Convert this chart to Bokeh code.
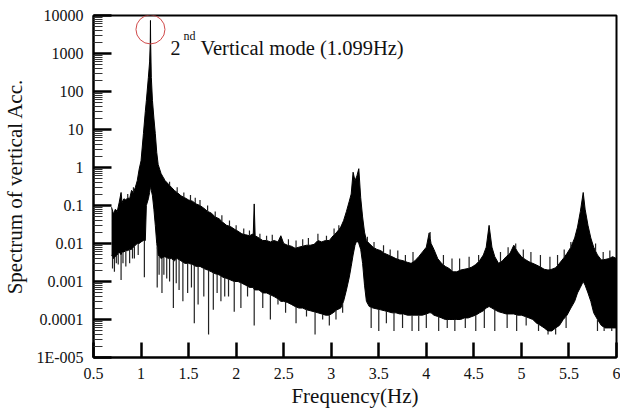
import numpy as np
from bokeh.plotting import figure
from bokeh.models import FixedTicker, CustomJSTickFormatter
from bokeh.core.properties import value
from bokeh.embed import file_html
from bokeh.resources import INLINE

# ---------------- data ----------------
freq = [0.69, 0.71, 0.73, 0.75, 0.77, 0.79, 0.80, 0.82, 0.84, 0.86, 0.88, 0.90, 0.92,
        0.94, 0.96, 0.98, 1.00, 1.025, 1.045, 1.056, 1.077, 1.09, 1.097, 1.099, 1.101,
        1.108, 1.12, 1.135, 1.15, 1.165, 1.18, 1.21, 1.25, 1.29, 1.32, 1.35, 1.38, 1.42,
        1.46, 1.50, 1.54, 1.58, 1.62, 1.66, 1.70, 1.74, 1.78, 1.82, 1.86, 1.90, 1.94,
        1.98, 2.02, 2.06, 2.10, 2.14, 2.18, 2.19, 2.20, 2.24, 2.28, 2.32, 2.36, 2.40,
        2.44, 2.47, 2.50, 2.54, 2.58, 2.62, 2.66, 2.70, 2.74, 2.78, 2.82, 2.86, 2.90,
        2.94, 2.98, 3.02, 3.06, 3.10, 3.13, 3.16, 3.19, 3.21, 3.23, 3.25, 3.27, 3.29,
        3.31, 3.33, 3.35, 3.37, 3.40, 3.44, 3.48, 3.52, 3.56, 3.60, 3.64, 3.68, 3.72,
        3.76, 3.80, 3.84, 3.88, 3.92, 3.96, 4.00, 4.03, 4.05, 4.08, 4.12, 4.16, 4.20,
        4.24, 4.28, 4.32, 4.36, 4.40, 4.44, 4.48, 4.52, 4.56, 4.60, 4.63, 4.66, 4.69,
        4.72, 4.76, 4.80, 4.84, 4.88, 4.92, 4.96, 5.00, 5.04, 5.08, 5.12, 5.16, 5.20,
        5.24, 5.28, 5.32, 5.36, 5.40, 5.44, 5.48, 5.52, 5.56, 5.59, 5.62, 5.65, 5.67,
        5.70, 5.73, 5.76, 5.80, 5.84, 5.88, 5.92, 5.96, 6.00]

upper = [0.09, 0.06, 0.08, 0.07, 0.12, 0.22, 0.12, 0.15, 0.14, 0.16, 0.15, 0.25, 0.22,
         0.3, 0.45, 0.9, 1.5, 7.8, 30, 58, 235, 600, 2000, 7400, 2000,
         235, 58, 20, 7.8, 2.5, 1.2, 0.7, 0.46, 0.36, 0.3, 0.25, 0.22, 0.18,
         0.16, 0.14, 0.13, 0.11, 0.1, 0.085, 0.07, 0.063, 0.05, 0.045, 0.036, 0.03, 0.028,
         0.024, 0.021, 0.018, 0.017, 0.016, 0.018, 0.11, 0.016, 0.014, 0.012, 0.012, 0.011, 0.012,
         0.011, 0.016, 0.01, 0.009, 0.0085, 0.0075, 0.008, 0.0085, 0.009, 0.009, 0.0095, 0.012, 0.011,
         0.012, 0.012, 0.016, 0.02, 0.027, 0.04, 0.07, 0.13, 0.2, 0.75, 0.45, 0.6, 0.93,
         0.16, 0.05, 0.02, 0.012, 0.01, 0.008, 0.007, 0.0065, 0.0055, 0.005, 0.0045, 0.004, 0.0037,
         0.0035, 0.0032, 0.003, 0.0035, 0.0045, 0.006, 0.008, 0.019, 0.01, 0.007, 0.004, 0.003, 0.0025,
         0.0022, 0.0018, 0.0018, 0.002, 0.0021, 0.0022, 0.0024, 0.0028, 0.0035, 0.005, 0.008, 0.03, 0.008,
         0.0045, 0.003, 0.0035, 0.0045, 0.0055, 0.009, 0.006, 0.0045, 0.0038, 0.0033, 0.003, 0.0027, 0.0024,
         0.0021, 0.002, 0.0021, 0.0023, 0.003, 0.004, 0.0055, 0.008, 0.014, 0.027, 0.07, 0.22, 0.08,
         0.03, 0.014, 0.008, 0.005, 0.0037, 0.0038, 0.004, 0.0045, 0.004]

lower = [0.005, 0.004, 0.0045, 0.005, 0.006, 0.005, 0.006, 0.006, 0.0065, 0.0065, 0.007, 0.007, 0.008,
         0.009, 0.01, 0.01, 0.011, 0.012, 0.012, 0.1, 0.15, 0.22, 0.3, 0.4, 0.3,
         0.25, 0.18, 0.08, 0.03, 0.01, 0.005, 0.004, 0.0045, 0.004, 0.004, 0.0035, 0.004, 0.0035,
         0.003, 0.003, 0.0028, 0.0025, 0.0025, 0.0022, 0.002, 0.0018, 0.0016, 0.0015, 0.0013, 0.0012, 0.0011,
         0.001, 0.001, 0.0009, 0.0008, 0.0007, 0.0007, 0.0006, 0.0006, 0.0006, 0.0005, 0.0005, 0.00045, 0.0004,
         0.00035, 0.0003, 0.0003, 0.00028, 0.00025, 0.00022, 0.0002, 0.0002, 0.00018, 0.00017, 0.00016, 0.00015, 0.00014,
         0.00013, 0.00013, 0.00015, 0.00018, 0.0002, 0.0003, 0.0006, 0.0013, 0.0025, 0.005, 0.009, 0.012, 0.01,
         0.007, 0.003, 0.0008, 0.0003, 0.00022, 0.0002, 0.00019, 0.00018, 0.00017, 0.00016, 0.00015, 0.00015, 0.00014,
         0.00014, 0.00013, 0.00013, 0.00013, 0.00013, 0.00013, 0.00014, 0.00015, 0.00015, 0.00013, 0.00012, 0.00011, 0.0001,
         0.0001, 0.0001, 0.0001, 0.0001, 0.00011, 0.00011, 0.00012, 0.00013, 0.00015, 0.00017, 0.0002, 0.00022, 0.0002,
         0.00018, 0.00016, 0.00015, 0.00014, 0.00014, 0.00014, 0.00013, 0.00013, 0.00012, 0.00011, 0.0001, 0.00008, 0.00007,
         0.00006, 0.00005, 0.00005, 0.00006, 0.00007, 0.0001, 0.00013, 0.0002, 0.0003, 0.0005, 0.0007, 0.001, 0.0008,
         0.0005, 0.0003, 0.00015, 0.0001, 0.00007, 0.00006, 0.00006, 0.00006, 0.00006]

# deep downward spikes below the dense band
dip_freq = [0.70, 0.72, 0.74, 0.76, 0.79, 0.81, 0.84, 0.88, 0.91, 0.93, 0.97, 1.035, 1.17,
            1.19, 1.22, 1.24, 1.27, 1.30, 1.34, 1.37, 1.40, 1.44, 1.49, 1.53,
            1.56, 1.60, 1.66, 1.71, 1.76, 1.80, 1.84, 1.88, 1.92, 1.98, 2.05, 2.12, 2.19, 2.28, 2.36,
            2.44, 2.52, 2.63, 2.74, 2.83, 2.91, 2.98, 3.05, 3.12, 3.42, 3.50, 3.58, 3.66,
            3.75, 3.85, 3.92, 4.00, 4.13, 4.22, 4.30, 4.41, 4.52, 4.61, 4.72, 4.85, 4.95,
            5.05, 5.18, 5.28, 5.36, 5.47, 5.80, 5.87, 5.95]
dip_val = [0.0022, 0.0018, 0.003, 0.0028, 0.0011, 0.003, 0.0025, 0.003, 0.004, 0.004, 0.005, 0.0013, 0.0007,
           0.0015, 0.0005, 0.0015, 0.0012, 0.001, 0.0002, 0.0009, 0.0006, 0.0003, 0.0005, 0.0007,
           0.00008, 0.00025, 0.0004, 0.00004, 0.00018, 0.0005, 0.0003, 0.0004, 0.0004, 0.00016, 0.0002, 0.0004, 0.00007, 0.0002, 0.0001,
           0.00025, 0.00015, 0.00008, 0.00012, 0.00004, 0.0001, 0.00007, 0.0001, 0.00015, 0.00006, 0.00005, 0.00008, 0.00005,
           0.00006, 0.00005, 0.00005, 0.00006, 0.00005, 0.00006, 0.00005, 0.00006, 0.00005, 0.00006, 0.00005, 0.00006, 0.00005,
           0.00007, 0.00005, 0.00004, 0.00004, 0.00006, 0.00005, 0.00005, 0.00005]

# upward spikes above the dense band
rise_freq = [0.79, 0.86, 0.92, 1.24, 1.30, 1.38, 1.45, 1.52, 1.57, 1.62, 1.70, 1.78, 1.85,
             1.93, 2.00, 2.08, 2.14, 2.25, 2.32, 2.38, 2.47, 2.55, 2.63, 2.70, 2.76, 2.86,
             2.95, 3.03, 3.08, 3.38, 3.45, 3.55, 3.62, 3.70, 3.78, 3.86, 4.04, 4.18, 4.27,
             4.35, 4.45, 4.55, 4.66, 4.78, 4.86, 4.94, 5.02, 5.10, 5.20, 5.30, 5.38, 5.45,
             5.52, 5.65, 5.78, 5.86, 5.93]
rise_val = [0.22, 0.2, 0.3, 0.5, 0.42, 0.3, 0.22, 0.19, 0.16, 0.14, 0.1, 0.07, 0.055,
            0.04, 0.03, 0.025, 0.022, 0.018, 0.016, 0.017, 0.016, 0.013, 0.012, 0.013, 0.014, 0.018,
            0.016, 0.025, 0.03, 0.015, 0.011, 0.009, 0.007, 0.0065, 0.005, 0.006, 0.02, 0.005, 0.004,
            0.004, 0.0045, 0.005, 0.03, 0.006, 0.008, 0.01, 0.007, 0.006, 0.005, 0.0045, 0.005, 0.007,
            0.011, 0.22, 0.01, 0.006, 0.0065]

peak_freq = 1.099
peak_val = 7400

x_ticks = [0.5, 1, 1.5, 2, 2.5, 3, 3.5, 4, 4.5, 5, 5.5, 6]
x_tick_labels = ["0.5", "1", "1.5", "2", "2.5", "3", "3.5", "4", "4.5", "5", "5.5", "6"]
y_ticks = [1e-5, 1e-4, 1e-3, 1e-2, 1e-1, 1, 10, 100, 1000, 10000]
y_tick_labels = ["1E-005", "0.0001", "0.001", "0.01", "0.1", "1", "10", "100", "1000", "10000"]

FONT = "Liberation Serif"

# ---------------- figure ----------------
p = figure(width=620, height=412, x_range=(0.5, 6), y_range=(1e-5, 1e4),
           y_axis_type="log", output_backend="svg", toolbar_location=None,
           min_border_left=92, min_border_right=4, min_border_top=15, min_border_bottom=55)
p.background_fill_color = "white"
p.border_fill_color = "white"
p.grid.visible = False
p.outline_line_color = "black"
p.outline_line_width = 2

minor = [m * t for t in y_ticks[:-1] for m in range(2, 10)]

xax = p.xaxis[0]
yax = p.yaxis[0]
xax.ticker = FixedTicker(ticks=x_ticks, minor_ticks=[])
xax.formatter = CustomJSTickFormatter(
    args=dict(tvals=x_ticks, tlabels=x_tick_labels),
    code="const i = tvals.findIndex(t => Math.abs(t - tick) < 1e-9); return i >= 0 ? tlabels[i] : '';")
yax.ticker = FixedTicker(ticks=y_ticks, minor_ticks=minor)
yax.formatter = CustomJSTickFormatter(
    args=dict(tvals=y_ticks, tlabels=y_tick_labels),
    code="const i = tvals.findIndex(t => Math.abs(Math.log10(t) - Math.log10(tick)) < 1e-6); return i >= 0 ? tlabels[i] : '';")

for ax in (xax, yax):
    ax.axis_line_color = "black"
    ax.axis_line_width = 2
    ax.major_tick_out = 0
    ax.major_tick_line_width = 2.5
    ax.major_tick_line_color = "black"
    ax.major_label_text_font = FONT
    ax.major_label_text_font_size = "16px"
    ax.major_label_text_color = "#111111"
    ax.axis_label_text_font = FONT
    ax.axis_label_text_font_style = "normal"
    ax.axis_label_text_font_size = "21px"
    ax.axis_label_text_color = "#111111"

xax.major_tick_in = 15
xax.minor_tick_line_color = None
xax.major_label_standoff = 10
xax.axis_label = "Frequency(Hz)"
xax.axis_label_standoff = 2

yax.major_tick_in = 18
yax.minor_tick_in = 9
yax.minor_tick_out = 0
yax.minor_tick_line_color = "#333333"
yax.minor_tick_line_width = 1
yax.major_label_standoff = 10
yax.axis_label = "Spectrum of vertical Acc."
yax.axis_label_standoff = 6

# ---------------- spectrum ----------------
p.varea(x=freq, y1=lower, y2=upper, fill_color="black")
p.line(freq, upper, line_color="black", line_width=1)
p.line(freq, lower, line_color="black", line_width=1)

log_low_at_dip = np.interp(dip_freq, freq, np.log10(lower))
p.segment(x0=dip_freq, y0=10 ** log_low_at_dip, x1=dip_freq, y1=dip_val,
          line_color="#222222", line_width=1.2)
log_up_at_rise = np.interp(rise_freq, freq, np.log10(upper))
p.segment(x0=rise_freq, y0=10 ** log_up_at_rise, x1=rise_freq, y1=rise_val,
          line_color="#222222", line_width=1.2)

# ---------------- annotation ----------------
p.scatter(x=[peak_freq], y=[4300], marker="circle", size=29, fill_color=None,
          line_color="#d04a4a", line_width=1)
p.text(x=[peak_freq], y=[peak_val], text=["2"], x_offset=20, y_offset=28,
       text_font=value(FONT), text_font_size="20px", text_baseline="alphabetic",
       text_color="#111111")
p.text(x=[peak_freq], y=[peak_val], text=["nd"], x_offset=33, y_offset=16,
       text_font=value(FONT), text_font_size="12px", text_baseline="alphabetic",
       text_color="#111111")
p.text(x=[peak_freq], y=[peak_val], text=["Vertical mode (1.099Hz)"], x_offset=50, y_offset=28,
       text_font=value(FONT), text_font_size="20.5px", text_baseline="alphabetic",
       text_color="#111111")

open("out.html", "w").write(file_html(p, INLINE))
